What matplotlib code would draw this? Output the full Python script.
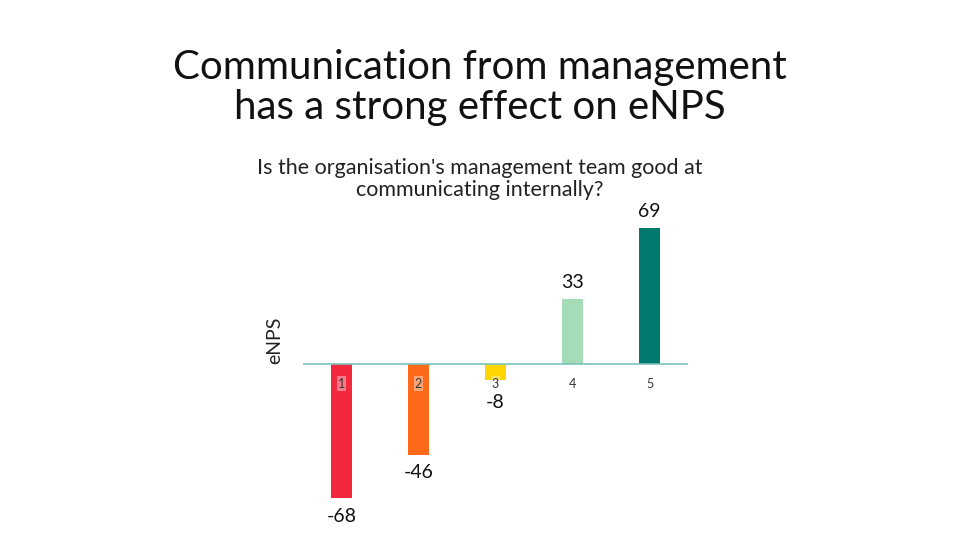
import matplotlib
matplotlib.use("Agg")
import matplotlib.pyplot as plt

# data
categories = ["1", "2", "3", "4", "5"]
enps = [-68, -46, -8, 33, 69]
colours = ["#F4283C", "#FF6A1A", "#FFD500", "#A3DCB6", "#007A6E"]

title = "Communication from management\nhas a strong effect on eNPS"
subtitle = "Is the organisation's management team good at\ncommunicating internally?"

plt.rcParams['font.family'] = ['Lato', 'DejaVu Sans']

fig = plt.figure(figsize=(9.6, 5.4), dpi=100)

# axes placed so zero line sits at ~y=364px, x from 303 to 688 px
ylo, yhi = -75, 75
pix_per_unit = 1.97
h_px = (yhi - ylo) * pix_per_unit
top_px = 364 - yhi * pix_per_unit
ax = fig.add_axes([303 / 960, 1 - (top_px + h_px) / 540, 385 / 960, h_px / 540])

x = list(range(1, len(categories) + 1))
ax.bar(x, enps, width=0.26, color=colours, zorder=2)
ax.set_xlim(0.5, 5.5)
ax.set_ylim(ylo, yhi)
ax.axhline(0, color="#7CC3BC", lw=1.2, zorder=3)

for s in ax.spines.values():
    s.set_visible(False)
ax.set_yticks([])
ax.set_xticks([])

# category labels sit just below the zero line, over the bars
for xi, c in zip(x, categories):
    ax.text(xi, -10, c, ha="center", va="center", fontsize=9, color="#333333", zorder=4,
            bbox=dict(boxstyle="square,pad=0.1", fc="white", ec="none", alpha=0.4))

# value labels
for xi, v in zip(x, enps):
    if v >= 0:
        ax.text(xi, v + 4, str(v), ha="center", va="bottom", fontsize=14, color="#111111",
                clip_on=False)
    else:
        ax.text(xi, min(v, -10) - 5, str(v), ha="center", va="top", fontsize=14,
                color="#111111", clip_on=False)

fig.text(275 / 960, 1 - 340 / 540, "eNPS", rotation=90, ha="center", va="center",
         fontsize=14, color="#222222")

fig.text(0.5, 1 - 88 / 540, title, ha="center", va="center", fontsize=29,
         color="#111111", linespacing=1.1)
fig.text(0.5, 1 - 179 / 540, subtitle, ha="center", va="center", fontsize=15.5,
         color="#222222", linespacing=1.12)

fig.savefig("out.png", dpi=100)
